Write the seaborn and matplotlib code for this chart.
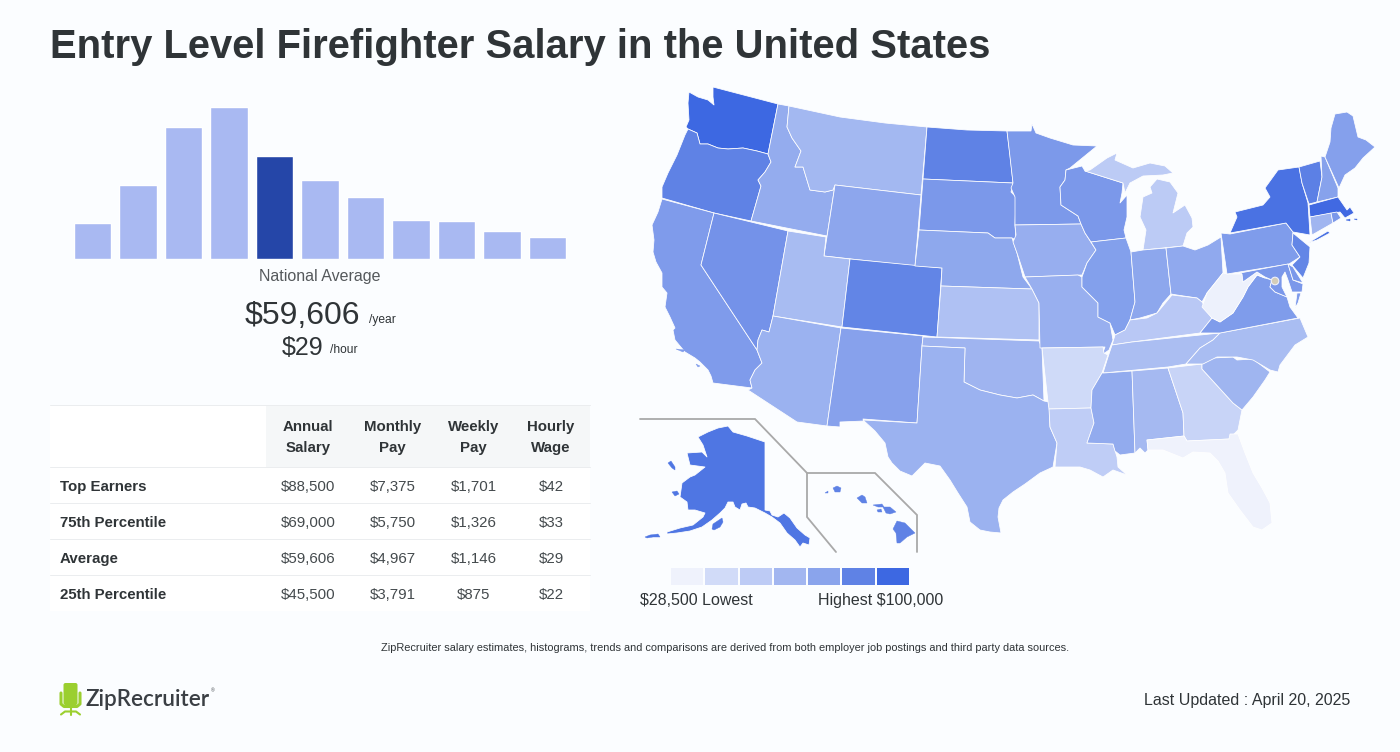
#!/usr/bin/env python3
# coding=utf-8
"""Entry level firefighter salary page: histogram, pay table and state map."""

from matplotlib import pyplot as plt
from matplotlib.patches import Circle, FancyBboxPatch, Polygon, Rectangle
from matplotlib.colors import ListedColormap
import numpy as np
import pandas as pd
import seaborn as sns

BACKGROUND = "#FBFDFF"
DARK = "#2F3437"
MID = "#444A4D"

# histogram, bar heights
HIST_BINS = list(range(11))
HIST_VALUES = [36, 74, 132, 152, 103, 79, 62, 39, 38, 28, 22]
HIST_AVERAGE_BIN = 4
HIST_LIGHT = "#A9B9F2"
HIST_DARK = "#2546A8"

# pay table
TABLE_HEADER = [("Annual", "Salary"), ("Monthly", "Pay"), ("Weekly", "Pay"), ("Hourly", "Wage")]
TABLE_ROWS = ["Top Earners", "75th Percentile", "Average", "25th Percentile"]
ANNUAL_PAY = ["$88,500", "$69,000", "$59,606", "$45,500"]
MONTHLY_PAY = ["$7,375", "$5,750", "$4,967", "$3,791"]
WEEKLY_PAY = ["$1,701", "$1,326", "$1,146", "$875"]
HOURLY_PAY = ["$42", "$33", "$29", "$22"]

# map legend
LEGEND_COLORS = ["#EFF2FC", "#D1DBF8", "#BDCBF5", "#A2B6F0", "#8AA4EC", "#5F82E5", "#3D68E2"]

# state outlines (no geo data available offline)
WA = [(713, 87), (778, 104), (768, 154), (757, 151), (743, 148), (728, 149), (718, 148), (708, 144), (700, 144),
      (697, 133), (688, 129), (686, 127), (689, 120), (688, 103), (689, 92), (698, 97), (708, 100), (714, 105), (713, 97)]
OR = [(688, 129), (697, 133), (700, 144), (708, 144), (718, 148), (728, 149), (743, 148), (757, 151), (768, 154),
      (771, 162), (765, 172), (758, 180), (761, 186), (751, 221), (714, 213), (662, 198), (662, 187), (668, 173),
      (677, 155), (685, 135)]
CA = [(662, 199), (714, 213), (701, 265), (757, 350), (762, 363), (755, 370), (750, 380), (752, 388), (713, 383),
      (711, 376), (708, 370), (700, 362), (695, 358), (685, 352), (675, 340), (673, 330), (675, 328), (670, 317), (665, 307),
      (667, 293), (662, 287), (662, 273), (656, 262), (653, 252), (654, 240), (652, 225), (658, 212)]
NV = [(714, 213), (788, 231), (773, 316), (769, 332), (762, 330), (758, 340), (757, 350), (701, 265)]
ID = [(778, 104), (789, 106), (787, 127), (792, 138), (801, 151), (795, 167), (803, 167), (810, 190), (825, 192),
      (833, 190), (835, 185), (827, 236), (751, 221), (761, 186), (758, 180), (765, 172), (771, 162), (768, 154)]
MT = [(789, 106), (840, 117), (885, 123), (927, 127), (921, 195), (835, 185), (833, 190), (825, 192), (810, 190), (803, 167),
      (795, 167), (801, 151), (792, 138), (787, 127)]
WY = [(835, 185), (921, 195), (915, 266), (824, 256)]
UT = [(788, 231), (826, 237), (824, 256), (850, 259), (842, 327), (773, 316)]
CO = [(850, 259), (942, 268), (937, 337), (842, 327)]
AZ = [(773, 316), (841, 328), (827, 426), (797, 422), (748, 390), (752, 388), (750, 380), (755, 370), (762, 363),
      (757, 350), (758, 340), (762, 330), (769, 332)]
NM = [(841, 328), (923, 336), (922, 346), (917, 423), (863, 419), (864, 421), (840, 422), (840, 427), (827, 426)]
ND = [(927, 127), (967, 130), (1007, 131), (1010, 155), (1013, 183), (923, 179)]
SD = [(923, 179), (1013, 183), (1011, 192), (1016, 197), (1015, 225), (1016, 240), (1012, 238), (995, 238), (988, 233), (919, 230)]
NE = [(919, 230), (988, 233), (995, 238), (1012, 238), (1017, 253), (1023, 277), (1032, 289), (941, 286), (942, 268), (915, 266)]
KS = [(941, 286), (1032, 289), (1039, 303), (1039, 340), (937, 337)]
OK = [(923, 337), (1039, 341), (1042, 348), (1044, 401), (1033, 395), (1017, 398), (1000, 395), (980, 390), (964, 382),
      (965, 348), (922, 346)]
TX = [(922, 346), (965, 348), (964, 382), (980, 390), (1000, 395), (1017, 398), (1033, 395), (1044, 401), (1049, 402),
      (1050, 427), (1057, 443), (1055, 455), (1053, 467), (1040, 473), (1025, 484), (1013, 492), (1003, 500), (999, 508), (998, 517), (1001, 533),
      (990, 532), (980, 530), (970, 522), (967, 507), (958, 493), (950, 480), (940, 466), (925, 463), (912, 476), (900, 471),
      (892, 463), (888, 457), (885, 443), (875, 431), (863, 420), (917, 423)]
MN = [(1007, 131), (1031, 131), (1032, 124), (1036, 133), (1050, 138), (1073, 145), (1097, 146), (1070, 168), (1066, 170),
      (1065, 180), (1060, 187), (1061, 205), (1078, 216), (1081, 224), (1015, 225), (1015, 197), (1011, 188), (1013, 183)]
IA = [(1015, 225), (1081, 224), (1085, 233), (1096, 250), (1087, 263), (1082, 275), (1025, 277), (1017, 253), (1013, 242), (1016, 235)]
MO = [(1025, 277), (1078, 275), (1082, 277), (1082, 287), (1098, 303), (1098, 317), (1110, 323), (1113, 340), (1109, 350),
      (1102, 355), (1105, 347), (1040, 348), (1039, 303), (1032, 289)]
AR = [(1042, 348), (1103, 347), (1104, 353), (1108, 355), (1102, 373), (1092, 390), (1091, 408), (1049, 409), (1048, 402)]
LA = [(1049, 409), (1091, 408), (1094, 423), (1087, 443), (1113, 444), (1117, 457), (1118, 467), (1127, 475), (1113, 470),
      (1103, 477), (1090, 470), (1080, 467), (1055, 467), (1057, 443), (1050, 427)]
WI = [(1066, 170), (1082, 166), (1085, 171), (1123, 183), (1122, 193), (1120, 203), (1127, 195), (1127, 217), (1124, 230),
      (1126, 238), (1091, 242), (1085, 233), (1081, 224), (1078, 216), (1061, 205), (1060, 187), (1065, 180)]
IL = [(1091, 242), (1126, 238), (1131, 252), (1135, 302), (1130, 320), (1125, 330), (1115, 335), (1110, 323), (1098, 317),
      (1098, 303), (1082, 287), (1082, 277), (1087, 263), (1096, 250)]
MI_UPPER = [(1090, 170), (1107, 158), (1117, 153), (1115, 160), (1133, 168), (1150, 163), (1165, 166), (1173, 173),
            (1163, 175), (1143, 176), (1130, 183), (1125, 193), (1123, 183), (1085, 171)]
MI_LOWER = [(1157, 179), (1170, 182), (1178, 193), (1173, 213), (1185, 205), (1192, 218), (1193, 227), (1187, 233), (1183, 246),
            (1143, 250), (1146, 230), (1140, 217), (1143, 197), (1152, 193), (1150, 187)]
IN = [(1131, 252), (1143, 250), (1166, 248), (1171, 294), (1163, 303), (1157, 313), (1140, 318), (1130, 320), (1135, 302)]
OH = [(1166, 248), (1183, 246), (1195, 250), (1208, 245), (1221, 237), (1223, 273), (1207, 293), (1202, 302), (1197, 298),
      (1177, 295), (1171, 294)]
KY = [(1115, 335), (1125, 330), (1130, 320), (1147, 318), (1157, 313), (1172, 295), (1197, 298), (1202, 302), (1212, 318),
      (1200, 333), (1132, 342), (1112, 345)]
TN = [(1132, 342), (1220, 333), (1213, 340), (1200, 348), (1186, 364), (1168, 367), (1103, 373), (1108, 357), (1112, 345)]
MS = [(1104, 373), (1132, 371), (1135, 453), (1120, 455), (1115, 451), (1113, 444), (1087, 443), (1094, 423), (1091, 408),
      (1092, 390), (1102, 373)]
AL = [(1132, 371), (1168, 368), (1183, 413), (1184, 436), (1147, 440), (1148, 450), (1145, 453), (1140, 448), (1135, 453)]
GA = [(1168, 368), (1202, 364), (1202, 369), (1233, 403), (1242, 410), (1238, 430), (1229, 439), (1187, 441), (1184, 436), (1183, 413)]
FL = [(1147, 440), (1184, 436), (1187, 441), (1229, 439), (1230, 434), (1238, 434), (1245, 453), (1253, 473), (1262, 488), (1270, 503), (1272, 523),
      (1262, 530), (1253, 527), (1240, 510), (1228, 493), (1225, 473), (1218, 461), (1210, 453), (1193, 452), (1183, 458), (1163, 450), (1148, 450)]
SC = [(1202, 364), (1213, 358), (1233, 357), (1237, 360), (1253, 359), (1270, 372), (1265, 380), (1253, 397), (1242, 410),
      (1233, 403), (1202, 369)]
NC = [(1220, 333), (1300, 318), (1308, 337), (1295, 345), (1280, 365), (1278, 372), (1270, 370), (1253, 360), (1237, 357),
      (1217, 357), (1203, 364), (1186, 364), (1200, 348), (1213, 340)]
VA = [(1200, 333), (1212, 318), (1220, 322), (1233, 313), (1243, 297), (1248, 287), (1257, 275), (1265, 278), (1272, 280),
      (1270, 287), (1275, 292), (1287, 297), (1290, 307), (1298, 318), (1220, 333)]
VA_SHORE = [(1297, 293), (1301, 293), (1298, 303), (1295, 308)]
WV = [(1223, 273), (1227, 274), (1242, 274), (1243, 282), (1257, 272), (1265, 278), (1257, 275), (1248, 287), (1243, 297),
      (1233, 313), (1220, 322), (1212, 318), (1202, 307), (1207, 293)]
PA = [(1221, 233), (1230, 234), (1286, 223), (1293, 232), (1292, 245), (1300, 257), (1289, 264), (1227, 274)]
NY = [(1230, 233), (1237, 217), (1235, 212), (1263, 205), (1270, 197), (1265, 188), (1278, 170), (1299, 167), (1302, 183),
      (1308, 203), (1310, 235), (1293, 232), (1286, 223)]
NY_ISLAND = [(1308, 243), (1328, 231), (1330, 233), (1317, 240)]
NJ = [(1293, 233), (1310, 247), (1309, 263), (1303, 278), (1292, 265), (1300, 257), (1292, 245)]
DE = [(1288, 264), (1293, 267), (1303, 283), (1293, 280)]
MD = [(1240, 273), (1288, 264), (1293, 280), (1303, 284), (1302, 292), (1292, 292), (1288, 280), (1285, 272), (1282, 277),
      (1282, 287), (1287, 297), (1275, 292), (1270, 287), (1272, 280), (1265, 277), (1257, 272), (1243, 282), (1242, 274)]
VT = [(1299, 167), (1320, 161), (1322, 177), (1317, 202), (1309, 204), (1302, 183)]
NH = [(1321, 156), (1325, 157), (1338, 188), (1338, 197), (1317, 202), (1322, 177)]
ME = [(1325, 157), (1330, 142), (1331, 128), (1335, 114), (1347, 112), (1353, 116), (1358, 137), (1366, 140), (1375, 147),
      (1363, 158), (1355, 168), (1345, 175), (1339, 188)]
MA = [(1309, 205), (1338, 197), (1347, 210), (1350, 207), (1354, 213), (1345, 218), (1340, 212), (1310, 217)]
CT = [(1310, 217), (1331, 213), (1333, 223), (1312, 235)]
RI = [(1331, 213), (1337, 212), (1341, 218), (1333, 223)]
AK = [(698, 437), (708, 432), (718, 428), (728, 426), (733, 432), (747, 436), (765, 442), (765, 510), (770, 511), (772, 515),
      (778, 517), (784, 513), (790, 518), (797, 528), (805, 535), (810, 538), (809, 545), (803, 543), (800, 547), (795, 540),
      (787, 533), (780, 523), (772, 517), (765, 513), (755, 508), (748, 507), (746, 503), (742, 504), (740, 510), (735, 507),
      (733, 502), (728, 502), (725, 508), (720, 513), (712, 520), (702, 527), (690, 531), (677, 533), (667, 534), (667, 532),
      (680, 528), (693, 525), (703, 517), (705, 513), (695, 510), (688, 510), (687, 502), (680, 497), (682, 483), (690, 477),
      (695, 475), (705, 467), (690, 465), (687, 453), (702, 452), (707, 457), (703, 445)]

# small islands, drawn without a border
AK_ISLANDS = [[(712, 529), (713, 524), (722, 518), (723, 522), (720, 527), (714, 530)],
              [(645, 537), (650, 535), (658, 534), (660, 537), (653, 537), (647, 538)],
              [(668, 463), (671, 461), (675, 467), (675, 470), (672, 468)],
              [(672, 492), (677, 491), (679, 494), (675, 496)]]
HI_ISLANDS = [[(897, 521), (905, 523), (915, 533), (907, 537), (900, 543), (897, 543), (896, 533), (893, 529)],
              [(883, 507), (890, 507), (896, 512), (890, 514), (886, 513)],
              [(873, 505), (882, 504), (884, 507), (878, 507)],
              [(877, 510), (881, 509), (882, 512), (878, 512)],
              [(857, 498), (862, 495), (865, 497), (867, 503), (862, 503)],
              [(833, 488), (837, 486), (841, 488), (840, 492), (835, 492)],
              [(825, 493), (828, 491), (828, 493)]]
CA_ISLANDS = [[(676, 349), (685, 350), (683, 352)], [(696, 364), (700, 366), (698, 367)]]
MA_ISLANDS = [[(1346, 220), (1350, 219), (1350, 221)], [(1354, 219), (1357, 219), (1357, 220)]]

STATE_SHAPES = [
    ([WA], "#3D68E2"), ([OR], "#5F82E5"), ([CA], "#7F9BEB"), ([NV], "#7492E9"), ([ID], "#94ACEE"),
    ([MT], "#A3B8F1"), ([WY], "#8DA6ED"), ([UT], "#A8BCF2"), ([CO], "#6285E6"), ([AZ], "#9BB2F0"), ([NM], "#87A1EC"),
    ([ND], "#5F82E5"), ([SD], "#7B98EA"), ([NE], "#8EA8ED"), ([KS], "#AFC1F3"), ([OK], "#9FB4F0"), ([TX], "#9BB2F0"),
    ([MN], "#7C99EA"), ([IA], "#97AEEF"), ([MO], "#98AFEF"), ([AR], "#CFDAF8"), ([LA], "#BFCDF6"), ([WI], "#7B98EA"),
    ([IL], "#83A0EC"), ([MI_UPPER, MI_LOWER], "#BCCBF5"), ([IN], "#8DA7ED"), ([OH], "#90A9EE"), ([KY], "#B9C8F5"),
    ([TN], "#ABBEF2"), ([MS], "#92ABEE"), ([AL], "#A5B9F1"), ([GA], "#C8D4F7"), ([FL], "#EFF2FC"), ([SC], "#9FB5F0"),
    ([NC], "#A9BDF2"), ([VA, VA_SHORE], "#7F9CEB"), ([WV], "#EDF1FC"), ([PA], "#7F9CEB"), ([NY, NY_ISLAND], "#4A72E3"),
    ([NJ], "#6386E6"), ([MD], "#7B98EA"), ([DE], "#7B98EA"), ([VT], "#5C80E5"), ([NH], "#87A2EC"), ([ME], "#85A0EC"),
    ([MA], "#4169E2"), ([CT], "#A0B5F0"), ([RI], "#7B98EA"), ([AK], "#4F76E3"),
]
ISLAND_SHAPES = [(AK_ISLANDS, "#4F76E3"), (HI_ISLANDS, "#5F82E5"), (CA_ISLANDS, "#7F9BEB"), (MA_ISLANDS, "#4169E2")]
INSET_ALASKA = [(640, 419), (755, 419), (807, 473)]
INSET_HAWAII = [(836, 552), (807, 517), (807, 473), (875, 473), (917, 515), (917, 552)]


def px(size):
    """Font size in points for a size given in pixels at dpi 100."""
    return size * 0.72


def plot_histogram(fig):
    """Draw the salary histogram, bars only."""
    ax = fig.add_axes([69.75 / 1400, 1 - 259 / 752, 500.5 / 1400, 159 / 752])
    df = pd.DataFrame({"bin": HIST_BINS, "value": HIST_VALUES})
    palette = [HIST_DARK if b == HIST_AVERAGE_BIN else HIST_LIGHT for b in HIST_BINS]
    sns.barplot(data=df, x="bin", y="value", hue="bin", palette=palette, legend=False,
                width=0.82, saturation=1, ax=ax)
    ax.set_xlim(-0.5, 10.5)
    ax.set_ylim(0, 159)
    ax.axis("off")


def plot_summary(ax):
    ax.text(320, 276, "National Average", ha="center", va="center", fontsize=px(16), color="#55595C")
    ax.text(302, 316, "$59,606", ha="center", va="center", fontsize=px(32), color=DARK)
    ax.text(369, 320, "/year", ha="left", va="center", fontsize=px(12), color=DARK)
    ax.text(303, 348, "$29", ha="center", va="center", fontsize=px(25), color=DARK)
    ax.text(330, 350, "/hour", ha="left", va="center", fontsize=px(12), color=DARK)


def plot_table(ax):
    ax.add_patch(Rectangle((50, 405), 540, 206, color="#FFFFFF", lw=0))
    ax.add_patch(Rectangle((266, 405), 324, 62, color="#F5F7F8", lw=0))
    for y in [404.5, 466.5, 502.5, 538.5, 574.5]:
        ax.plot([50, 590], [y, y], color="#EBEDEF", lw=0.72)
    col_x = [308, 392.5, 473.5, 551]
    for x, (top, bottom) in zip(col_x, TABLE_HEADER):
        ax.text(x, 427, top, ha="center", va="center", fontsize=px(15), fontweight="bold", color=DARK)
        ax.text(x, 448, bottom, ha="center", va="center", fontsize=px(15), fontweight="bold", color=DARK)
    for i, row in enumerate(TABLE_ROWS):
        y = 487 + 36 * i
        ax.text(60, y, row, ha="left", va="center", fontsize=px(15), fontweight="bold", color=DARK)
        cells = [ANNUAL_PAY[i], MONTHLY_PAY[i], WEEKLY_PAY[i], HOURLY_PAY[i]]
        for x, cell in zip(col_x, cells):
            ax.text(x, y, cell, ha="center", va="center", fontsize=px(15), color=MID)


def plot_map(ax):
    for parts, color in STATE_SHAPES:
        for part in parts:
            ax.add_patch(Polygon(part, closed=True, facecolor=color, edgecolor="#FFFFFF",
                                 lw=0.55, joinstyle="round"))
    for parts, color in ISLAND_SHAPES:
        for part in parts:
            ax.add_patch(Polygon(part, closed=True, facecolor=color, edgecolor=color, lw=0.3))
    ax.add_patch(Circle((1275, 281), 3.8, facecolor="#D4CDB8", edgecolor="#EEF1FC", lw=0.8))
    for line in [INSET_ALASKA, INSET_HAWAII]:
        xs, ys = zip(*line)
        ax.plot(xs, ys, color="#A9A9A9", lw=1.3, solid_joinstyle="miter")


def plot_legend(fig, ax):
    cax = fig.add_axes([670 / 1400, 1 - 586 / 752, 240 / 1400, 19 / 752])
    cells = np.arange(len(LEGEND_COLORS)).reshape(1, -1)
    sns.heatmap(cells, cmap=ListedColormap(LEGEND_COLORS), cbar=False, xticklabels=False, yticklabels=False,
                linewidths=1.44, linecolor=BACKGROUND, ax=cax)
    ax.text(640, 605, "$28,500 Lowest", ha="left", va="baseline", fontsize=px(16), color=DARK)
    ax.text(943, 605, "Highest $100,000", ha="right", va="baseline", fontsize=px(16), color=DARK)


def plot_logo(ax):
    green = "#9BCF2F"
    ax.add_patch(FancyBboxPatch((64.5, 684), 12, 20, boxstyle="round,pad=1,rounding_size=2", facecolor=green, lw=0))
    ax.plot([61, 61, 64, 77, 80, 80], [693, 704, 706.5, 706.5, 704, 693], color=green, lw=2.2, solid_capstyle="round")
    ax.plot([70.5, 70.5], [708, 715], color=green, lw=1.5)
    ax.plot([61, 65, 76, 80], [714.5, 711.5, 711.5, 714.5], color=green, lw=1.5)
    ax.text(85.5, 700, "ZipRecruiter", ha="left", va="center", fontsize=px(22.5), family="Lato",
            fontweight="semibold", color="#3A3F44")
    ax.text(211, 691, "®", ha="left", va="center", fontsize=px(5), color="#3A3F44")


def main():
    sns.set_theme(style="white")
    plt.rcParams["font.family"] = ["Liberation Sans", "DejaVu Sans"]

    fig = plt.figure(figsize=(14, 7.52), dpi=100, facecolor=BACKGROUND)
    page = fig.add_axes([0, 0, 1, 1])
    page.set_xlim(0, 1400)
    page.set_ylim(752, 0)
    page.axis("off")

    page.text(50, 47, "Entry Level Firefighter Salary in the United States", ha="left", va="center",
              fontsize=px(40), fontweight="bold", color=DARK)
    plot_histogram(fig)
    plot_summary(page)
    plot_table(page)
    plot_map(page)
    plot_legend(fig, page)
    page.text(725, 648, "ZipRecruiter salary estimates, histograms, trends and comparisons are derived "
              "from both employer job postings and third party data sources.", ha="center", va="center",
              fontsize=px(11), color=DARK)
    plot_logo(page)
    page.text(1350, 701, "Last Updated : April 20, 2025", ha="right", va="center", fontsize=px(16), color=DARK)

    fig.savefig("out.png", dpi=100, facecolor=BACKGROUND)


if __name__ == "__main__":
    main()
